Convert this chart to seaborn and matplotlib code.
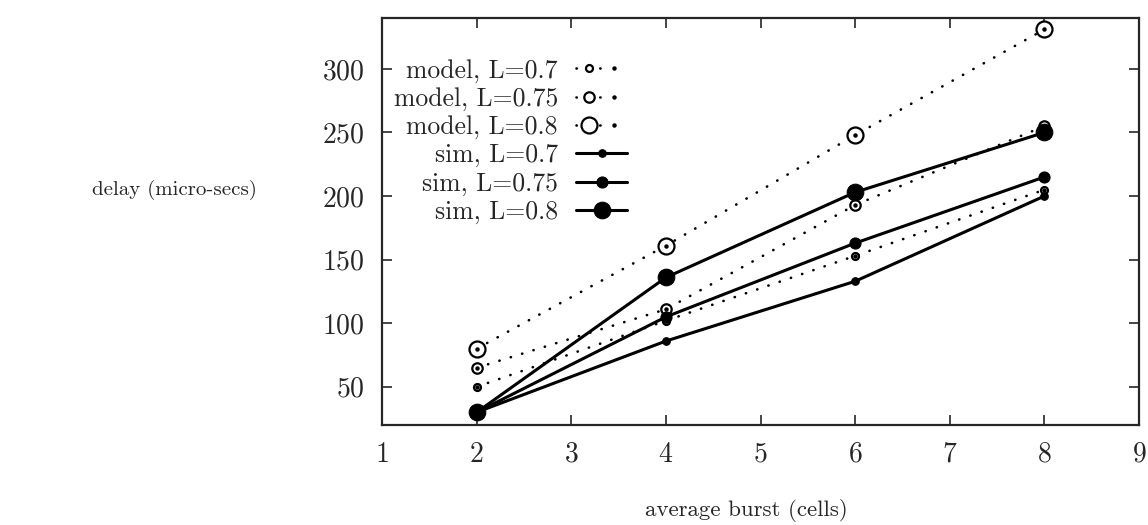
import pandas as pd
import seaborn as sns
import matplotlib.pyplot as plt
from matplotlib.legend_handler import HandlerTuple

# values
burst = [2, 4, 6, 8]
model_07 = [50, 102, 153, 205]
model_075 = [65, 111, 193, 255]
model_08 = [80, 161, 248, 331]
sim_07 = [30, 86, 133, 200]
sim_075 = [30, 105, 163, 215]
sim_08 = [30, 136, 203, 250]

labels = ["model, L=0.7", "model, L=0.75", "model, L=0.8",
          "sim, L=0.7", "sim, L=0.75", "sim, L=0.8"]
series = [model_07, model_075, model_08, sim_07, sim_075, sim_08]

x_ticks = [1, 2, 3, 4, 5, 6, 7, 8, 9]
y_ticks = [50, 100, 150, 200, 250, 300]

sns.set_style("ticks")
plt.rcParams["font.family"] = ["cmr10", "DejaVu Serif"]
plt.rcParams["mathtext.fontset"] = "cm"
plt.rcParams["axes.formatter.use_mathtext"] = True
plt.rcParams["lines.dash_capstyle"] = "round"

data_df = pd.DataFrame(
    [(b, v, lab) for lab, vals in zip(labels, series) for b, v in zip(burst, vals)],
    columns=["burst", "delay", "series"],
)

fig = plt.figure(figsize=(11.48, 5.25), dpi=100)
ax = fig.add_axes([0.3328, 0.1905, 0.6594, 0.7752])

dotted = (0, (0.1, 4.4))
msize = {"0.7": 5, "0.75": 7.5, "0.8": 11.5}

handles = []
for lab in labels:
    sub = data_df[data_df["series"] == lab]
    L = lab.split("=")[1]
    if lab.startswith("model"):
        sns.lineplot(x="burst", y="delay", data=sub, ax=ax, color="black",
                     linestyle=dotted, linewidth=1.9, marker="o",
                     markersize=msize[L], markerfacecolor="white",
                     markeredgecolor="black", markeredgewidth=1.6,
                     errorbar=None, legend=False)
        line = ax.get_lines()[-1]
        dot = ax.plot(sub["burst"], sub["delay"], linestyle="none", marker="o",
                      markersize=2.2, color="black")[0]
        handles.append((line, dot))
    else:
        sns.lineplot(x="burst", y="delay", data=sub, ax=ax, color="black",
                     linestyle="-", linewidth=2.2, marker="o",
                     markersize=msize[L] + 0.5, markerfacecolor="black",
                     markeredgecolor="black", errorbar=None, legend=False)
        handles.append(ax.get_lines()[-1])

ax.set_xlim(1, 9)
ax.set_ylim(20, 340)
ax.set_xticks(x_ticks)
ax.set_yticks(y_ticks)
ax.set_xlabel("")
ax.set_ylabel("")
ax.tick_params(direction="in", length=7, width=1.2, labelsize=20,
               top=True, right=True)
ax.tick_params(axis="y", pad=12.5)
ax.tick_params(axis="x", pad=12)
for sp in ax.spines.values():
    sp.set_linewidth(1.6)

fig.text(0.152, 0.638, "delay (micro-secs)", ha="center", va="center", fontsize=15)
fig.text(0.65, 0.028, "average burst (cells)", ha="center", va="center", fontsize=16.5)

legend = ax.legend(handles, labels, loc="upper right", bbox_to_anchor=(0.324, 0.9),
                   markerfirst=False, frameon=False, fontsize=18.5,
                   handlelength=2.0, handletextpad=0.7, labelspacing=0.17,
                   borderpad=0, borderaxespad=0,
                   handler_map={tuple: HandlerTuple(ndivide=None)})

fig.savefig("out.png", dpi=100)
